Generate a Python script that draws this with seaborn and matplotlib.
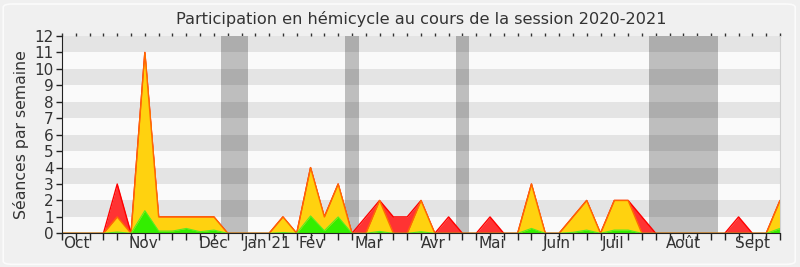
import matplotlib
matplotlib.use("Agg")
import matplotlib.pyplot as plt
from matplotlib.patches import FancyBboxPatch
import seaborn as sns
import numpy as np
import pandas as pd

# ---- data (one value per week of the session) ----
weeks = list(range(53))
presence = [0, 0, 0, 0, 3, 0, 11, 1, 1, 1, 1, 1, 0, 0, 0, 0, 1, 0, 4, 1,
            3, 0, 1, 2, 1, 1, 2, 0, 1, 0, 0, 1, 0, 0, 3, 0, 0, 1, 2, 0,
            2, 2, 1, 0, 0, 0, 0, 0, 0, 1, 0, 0, 2]
hemicycle = [0, 0, 0, 0, 1, 0, 11, 1, 1, 1, 1, 1, 0, 0, 0, 0, 1, 0, 4, 1,
             3, 0, 0, 2, 0, 0, 2, 0, 0, 0, 0, 0, 0, 0, 3, 0, 0, 1, 2, 0,
             2, 2, 0, 0, 0, 0, 0, 0, 0, 0, 0, 0, 2]
interventions = [0, 0, 0, 0, 0.08, 0, 1.38, 0.14, 0.14, 0.3, 0.1, 0.2, 0, 0, 0, 0, 0.05, 0, 1.06, 0.16,
                 1.0, 0, 0, 0.12, 0, 0, 0.1, 0, 0, 0, 0, 0, 0, 0, 0.3, 0, 0, 0.06, 0.2, 0,
                 0.2, 0.2, 0, 0, 0, 0, 0, 0, 0, 0, 0, 0, 0.3]
vacances_debut = [11.5, 20.5, 28.5, 42.5]
vacances_fin = [13.5, 21.5, 29.5, 47.5]
mois_labels = ["Oct", "Nov", "Déc", "Jan 21", "Fév", "Mar", "Avr", "Mai",
               "Juin", "Juil", "Août", "Sept"]
mois_pos = [1.07, 5.87, 10.94, 14.9, 18.1, 22.2, 26.9, 31.1, 35.8, 39.9, 44.98, 49.98]

df = pd.DataFrame({"semaine": weeks, "presence": presence,
                   "hemicycle": hemicycle, "interventions": interventions})

sns.set_style("white")
plt.rcParams["font.family"] = ["DejaVu Sans"]

fig = plt.figure(figsize=(8, 2.67), dpi=100, facecolor="#f0f0f0")
fig.patches.append(FancyBboxPatch((0.004, 0.01), 0.99, 0.975, boxstyle="round,pad=0,rounding_size=0.012",
                                  transform=fig.transFigure, facecolor="none",
                                  edgecolor="#fbfbfb", linewidth=1.2, figure=fig))
ax = fig.add_axes([0.0775, 0.126, 0.8975, 0.739])
ax.set_facecolor("#fafafa")

# holidays
for a, b in zip(vacances_debut, vacances_fin):
    ax.axvspan(a, b, color="#bebebe", zorder=1, lw=0)
# stripes
for k in range(1, 12, 2):
    ax.axhspan(k, k + 1, color="black", alpha=0.085, zorder=2, lw=0)

ax.fill_between(df["semaine"], df["presence"], color="#ff3333", lw=0, zorder=3)
sns.lineplot(data=df, x="semaine", y="presence", ax=ax, color="#ff0000", lw=1, zorder=4)
ax.fill_between(df["semaine"], df["hemicycle"], color="#ffd20f", lw=0, zorder=5)
sns.lineplot(data=df, x="semaine", y="hemicycle", ax=ax, color="#ff6a00", lw=1, zorder=6)
ax.fill_between(df["semaine"], df["interventions"], color="#33ee00", lw=0, zorder=7)
sns.lineplot(data=df, x="semaine", y="interventions", ax=ax, color="#55ee22", lw=0.8, zorder=8)

ax.set_xlim(0, 52)
ax.set_ylim(0, 12)
ax.set_xlabel("")
ax.set_ylabel("Séances par semaine", fontsize=11.3, color="#333333", labelpad=4)
ax.set_title("Participation en hémicycle au cours de la session 2020-2021",
             fontsize=11.6, color="#333333", pad=9)

ax.set_yticks(range(13))
ax.set_yticklabels([str(v) for v in range(13)], fontsize=11, color="#333333")
ax.set_xticks(weeks)
ax.set_xticklabels([])
ax.set_xticks(mois_pos, minor=True)
ax.set_xticklabels(mois_labels, minor=True, fontsize=11, color="#333333")
ax.tick_params(axis="x", which="major", direction="out", length=5, width=1, color="#222222", bottom=True)
ax.tick_params(axis="x", which="minor", length=0, pad=2)
ax.tick_params(axis="y", direction="out", length=4, width=1, color="#222222", left=True, pad=2)

sec = ax.secondary_xaxis("top")
sec.set_xticks(weeks)
sec.set_xticklabels([])
sec.tick_params(direction="out", length=2, width=1, color="#333333")
sec.spines["top"].set_visible(False)

ax.spines["top"].set_visible(False)
ax.spines["right"].set_color("#d0d0d0")
ax.spines["left"].set_color("#222222")
ax.spines["bottom"].set_color("#222222")
for s in ax.spines.values():
    s.set_zorder(10)

fig.savefig("out.png", dpi=100, facecolor=fig.get_facecolor())
